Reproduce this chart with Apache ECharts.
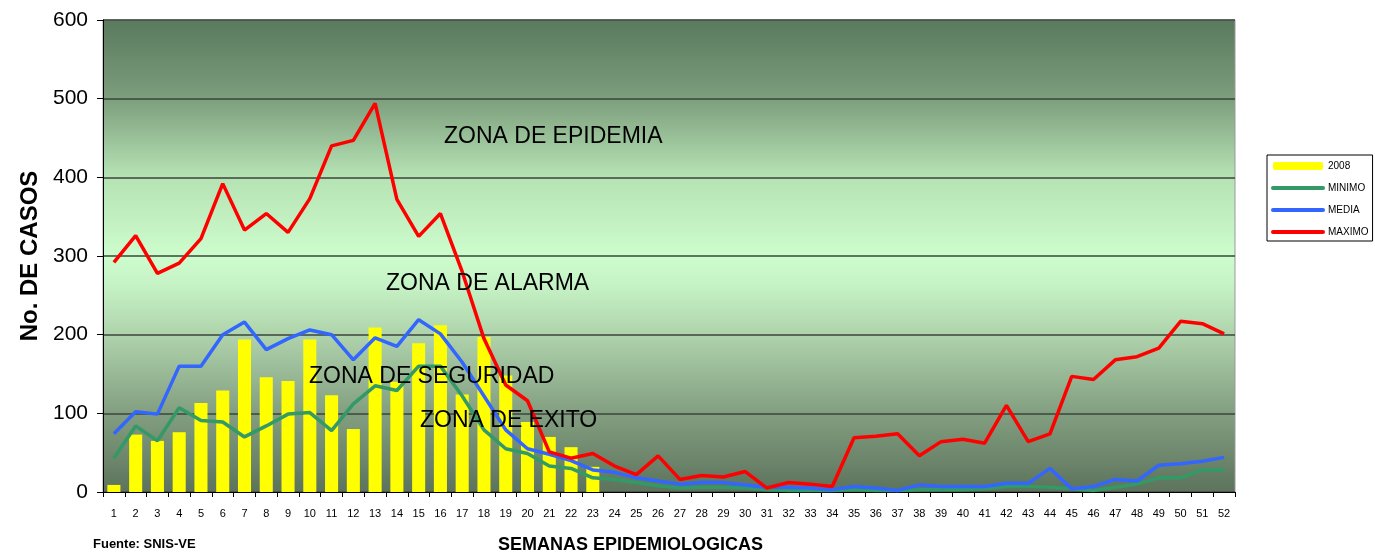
<!DOCTYPE html>
<html>
<head>
    <meta charset="utf-8">
    <title>Canal endemico 2008</title>
    <script src="https://cdn.jsdelivr.net/npm/echarts/dist/echarts.min.js"></script>
    <style>
        body { margin: 0; background: #fff; }
    </style>
</head>
<body>
<div id="main" style="width: 1375px;height:555px;"></div>
<script type="text/javascript">
    // semanas epidemiologicas 1..52
    var semanas = [];
    for (var i = 1; i <= 52; i++) semanas.push(String(i));

    // casos 2008 (solo hasta la semana 23)
    var casos2008 = [9, 73, 65, 76, 113, 129, 194, 146, 141, 194, 123, 80, 209, 140, 189, 212, 124, 197, 148, 89, 70, 57, 32,
        '-', '-', '-', '-', '-', '-', '-', '-', '-', '-', '-', '-', '-', '-', '-', '-', '-', '-', '-', '-', '-', '-', '-', '-', '-', '-', '-', '-', '-'];

    var minimo = [43, 84, 65, 107, 91, 89, 70, 84, 99, 101, 78, 112, 135, 129, 160, 160, 122, 79, 55, 49, 33, 30, 18, 16, 12, 8,
        5, 6, 6, 5, 3, 2, 2, 2, 3, 2, 2, 3, 3, 3, 4, 7, 7, 6, 4, 2, 6, 10, 18, 18, 28, 28];

    var media = [74, 102, 99, 160, 160, 200, 216, 181, 195, 206, 200, 168, 196, 185, 219, 201, 165, 122, 79, 55, 48, 40, 28, 25, 18, 14,
        10, 12, 12, 9, 6, 6, 5, 3, 7, 5, 2, 9, 7, 7, 7, 11, 11, 30, 4, 7, 16, 14, 34, 36, 39, 44];

    var maximo = [292, 326, 278, 291, 322, 392, 333, 354, 330, 373, 440, 447, 494, 372, 325, 354, 280, 195, 136, 116, 51, 43, 49, 33, 22, 46,
        16, 21, 19, 26, 5, 12, 10, 7, 69, 71, 74, 46, 64, 67, 62, 110, 64, 74, 147, 143, 168, 172, 183, 217, 214, 201];

    var font = 'Arial, "Liberation Sans", sans-serif';

    var myChart = echarts.init(document.getElementById('main'));

    var fondo = new echarts.graphic.LinearGradient(0, 0, 0, 1, [
        {offset: 0, color: '#5a795e'},
        {offset: 0.17, color: '#7d9f7d'},
        {offset: 0.33, color: '#b5e2b3'},
        {offset: 0.5, color: '#cdfccd'},
        {offset: 0.56, color: '#c6f3c5'},
        {offset: 0.67, color: '#aed2ab'},
        {offset: 0.83, color: '#839f81'},
        {offset: 1, color: '#5d735c'}
    ]);

    function zona(texto, x, y) {
        return {
            type: 'text', left: x, top: y, z: 100,
            style: {text: texto, font: '23px ' + font, fill: '#000'}
        };
    }

    function itemLinea(nombre) {
        return {name: nombre, itemStyle: {opacity: 0}, lineStyle: {width: 4, cap: 'round'}};
    }

    var option = {
        animation: false,
        textStyle: {fontFamily: font},
        grid: {
            left: 103, right: 140, top: 20, bottom: 63,
            show: true,
            backgroundColor: fondo,
            borderColor: '#999',
            borderWidth: 1
        },
        legend: {
            orient: 'vertical',
            left: 1267, top: 155,
            backgroundColor: '#fff',
            borderColor: '#000',
            borderWidth: 1,
            borderRadius: 0,
            padding: [6, 4, 4, 4],
            itemGap: 12,
            itemWidth: 50,
            itemHeight: 8,
            textStyle: {fontSize: 10, color: '#000', fontFamily: font},
            data: ['2008', itemLinea('MINIMO'), itemLinea('MEDIA'), itemLinea('MAXIMO')]
        },
        xAxis: {
            type: 'category',
            data: semanas,
            boundaryGap: true,
            axisLine: {lineStyle: {color: '#000', width: 1}},
            axisTick: {show: true, inside: false, length: 5, interval: 0, lineStyle: {color: '#000'}},
            axisLabel: {interval: 0, fontSize: 11, color: '#000', margin: 16},
            splitLine: {show: false}
        },
        yAxis: {
            type: 'value',
            min: 0, max: 600, interval: 100,
            name: 'No. DE CASOS',
            nameLocation: 'middle',
            nameGap: 61,
            nameTextStyle: {fontSize: 24, fontWeight: 'bold', color: '#000'},
            axisLine: {show: true, lineStyle: {color: '#000', width: 1}},
            axisTick: {show: true, length: 6, lineStyle: {color: '#000'}},
            axisLabel: {fontSize: 21, color: '#000', margin: 15},
            splitLine: {show: true, lineStyle: {color: '#3b453b', width: 1.5}}
        },
        series: [
            {
                name: '2008', type: 'bar', data: casos2008,
                barWidth: '60%', z: 2,
                itemStyle: {color: '#ffff00'}
            },
            {
                name: 'MINIMO', type: 'line', data: minimo,
                symbol: 'none', z: 3,
                lineStyle: {color: '#339966', width: 3.5},
                itemStyle: {color: '#339966'}
            },
            {
                name: 'MEDIA', type: 'line', data: media,
                symbol: 'none', z: 4,
                lineStyle: {color: '#3366ff', width: 3.5},
                itemStyle: {color: '#3366ff'}
            },
            {
                name: 'MAXIMO', type: 'line', data: maximo,
                symbol: 'none', z: 5,
                lineStyle: {color: '#ff0000', width: 3.5},
                itemStyle: {color: '#ff0000'}
            }
        ],
        graphic: [
            zona('ZONA DE EPIDEMIA', 444, 125),
            zona('ZONA DE ALARMA', 386, 272),
            zona('ZONA DE SEGURIDAD', 309, 365),
            zona('ZONA DE EXITO', 420, 409),
            {
                type: 'text', left: 93, top: 538,
                style: {text: 'Fuente: SNIS-VE', font: 'bold 13px ' + font, fill: '#000'}
            },
            {
                type: 'text', left: 498, top: 536,
                style: {text: 'SEMANAS EPIDEMIOLOGICAS', font: 'bold 18px ' + font, fill: '#000'}
            }
        ]
    };

    myChart.setOption(option);
</script>
</body>
</html>
